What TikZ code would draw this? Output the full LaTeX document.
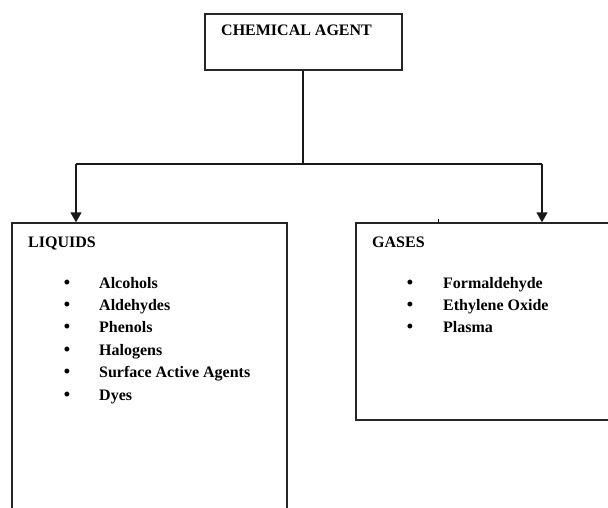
\documentclass[tikz,border=0pt]{standalone}
\usepackage{fontspec}
\setmainfont{Liberation Serif}
\usetikzlibrary{arrows.meta}
\begin{document}
\begin{tikzpicture}[x=1pt,y=-1pt,
  box/.style={draw=black!85, line width=1.4pt, inner sep=0pt},
  conn/.style={draw=black!90, line width=1.5pt},
  arr/.style={conn, -{Triangle[length=10pt,width=11pt]}},
  lbl/.style={anchor=base west, inner sep=0pt, font=\fontsize{16}{19}\selectfont\bfseries},
  bul/.style={anchor=base, inner sep=0pt, font=\fontsize{18}{20}\selectfont\bfseries}
]
\fill[white] (0,0) rectangle (608,508);
\clip (0,0) rectangle (608,508);
% boxes
\node[box, minimum width=197pt, minimum height=56pt] (top) at (303.5,42) {};
\node[box, minimum width=275pt, minimum height=310pt] (liq) at (149.5,378) {};
\node[box, minimum width=270pt, minimum height=197pt] (gas) at (491,321.5) {};
% titles
\node[lbl] (ttop) at (221,36) {CHEMICAL AGENT};
\node[lbl] (tliq) at (28,247) {LIQUIDS};
\node[lbl] (tgas) at (372,247) {GASES};
% liquids list
\foreach \t [count=\i] in {Alcohols,Aldehydes,Phenols,Halogens,Surface Active Agents,Dyes}{
  \node[bul] (lb\i) at (67,{288+22.4*(\i-1)}) {\textbullet};
  \node[lbl] (li\i) at (99,{288+22.4*(\i-1)}) {\t};
}
% gases list
\foreach \t [count=\i] in {Formaldehyde,Ethylene Oxide,Plasma}{
  \node[bul] (gb\i) at (410,{288+22.4*(\i-1)}) {\textbullet};
  \node[lbl] (gi\i) at (443,{288+22.4*(\i-1)}) {\t};
}
% connectors
\coordinate (split) at (303,164);
\coordinate (lc) at (76,164);
\coordinate (rc) at (542,164);
\draw[conn] (split |- top.south) -- (split);
\draw[conn] (lc) -- (rc);
\draw[arr] (lc) -- (lc |- liq.north);
\draw[arr] (rc) -- (rc |- gas.north);
% small tick
\coordinate (tk) at (438,219);
\draw[line width=1pt] (tk) -- ++(0,3);
\end{tikzpicture}
\end{document}
